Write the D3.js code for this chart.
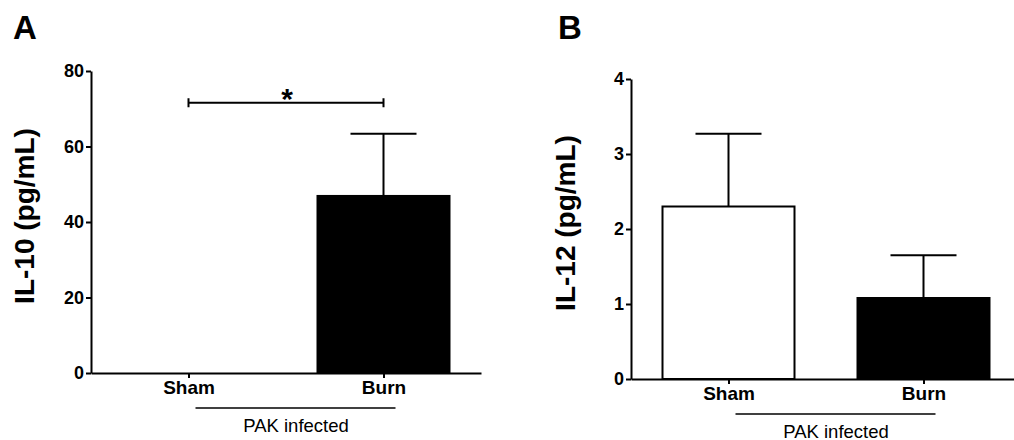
<!DOCTYPE html>
<html>
<head>
<meta charset="utf-8">
<script src="https://cdn.jsdelivr.net/npm/d3@7"></script>
<style>
  body { margin: 0; background: #fff; }
  svg { font-family: 'Liberation Sans', Arial, sans-serif; }
</style>
</head>
<body>
<chart></chart>
<script>
// Data
const groups = ['Sham', 'Burn'];
const barFills = ['white', 'black'];

const il10Means = [0, 46.9];
const il10Errors = [0, 16.5];
const il10Ticks = [0, 20, 40, 60, 80];
const il10Sig = { from: 'Sham', to: 'Burn', value: 71.6, label: '*' };

const il12Means = [2.3, 1.08];
const il12Errors = [0.97, 0.57];
const il12Ticks = [0, 1, 2, 3, 4];

const groupLabel = 'PAK infected';

//svg
const svg = d3.select('chart').append('svg')
  .attr('width', 1014)
  .attr('height', 440);

const drawPanel = function (opts) {
  const { left, top, height, yMax, ticks, means, errors, title, letter, titleX, letterX, sig } = opts;
  const width = 390;
  const barWidth = 132;

  // Scales
  const xScale = d3.scalePoint()
    .domain(groups)
    .range([0, width])
    .padding(0.5);

  const yScale = d3.scaleLinear()
    .domain([0, yMax])
    .range([height, 0]);

  const g = svg.append('g')
    .attr('transform', `translate(${left}, ${top})`);

  // Bars
  g.selectAll('.bar')
    .data(groups)
    .enter().append('rect')
    .attr('class', 'bar')
    .attr('x', d => xScale(d) - barWidth / 2)
    .attr('y', (d, i) => yScale(means[i]))
    .attr('width', barWidth)
    .attr('height', (d, i) => height - yScale(means[i]))
    .attr('fill', (d, i) => barFills[i])
    .attr('stroke', 'black')
    .attr('stroke-width', 2);

  // Error bars (upper only)
  const err = g.selectAll('.err')
    .data(groups.filter((d, i) => errors[i] > 0))
    .enter().append('g')
    .attr('class', 'err');

  const top_ = d => yScale(means[groups.indexOf(d)] + errors[groups.indexOf(d)]);

  err.append('line')
    .attr('x1', d => xScale(d))
    .attr('x2', d => xScale(d))
    .attr('y1', d => yScale(means[groups.indexOf(d)]))
    .attr('y2', top_)
    .attr('stroke', 'black')
    .attr('stroke-width', 2);

  err.append('line')
    .attr('x1', d => xScale(d) - 33)
    .attr('x2', d => xScale(d) + 33)
    .attr('y1', top_)
    .attr('y2', top_)
    .attr('stroke', 'black')
    .attr('stroke-width', 2);

  //Axes
  const yAxis = d3.axisLeft(yScale)
    .tickValues(ticks)
    .tickFormat(d3.format('d'))
    .tickSize(5)
    .tickSizeOuter(0)
    .tickPadding(2);

  const xAxis = d3.axisBottom(xScale)
    .tickSize(5)
    .tickSizeOuter(0)
    .tickPadding(3);

  const yAxisGroup = g.append('g').call(yAxis);
  const xAxisGroup = g.append('g')
    .attr('transform', `translate(0, ${height})`)
    .call(xAxis);

  [yAxisGroup, xAxisGroup].forEach(a => {
    a.selectAll('path, line').attr('stroke', 'black').attr('stroke-width', 2);
    a.selectAll('text')
      .attr('fill', 'black')
      .style('font-weight', 'bold');
  });
  yAxisGroup.selectAll('text').style('font-size', '18px');
  xAxisGroup.selectAll('text').style('font-size', '19px');

  // Group line and label below x axis
  g.append('line')
    .attr('x1', xScale(groups[0]) + 7)
    .attr('x2', xScale(groups[1]) + 12)
    .attr('y1', height + 35)
    .attr('y2', height + 35)
    .attr('stroke', 'black')
    .attr('stroke-width', 1.5);

  g.append('text')
    .attr('x', (xScale(groups[0]) + xScale(groups[1])) / 2 + 10)
    .attr('y', height + 58.5)
    .attr('text-anchor', 'middle')
    .style('font-size', '18.5px')
    .text(groupLabel);

  // Y axis title
  svg.append('text')
    .attr('transform', `translate(${titleX}, ${top + height / 2 - 6}) rotate(-90)`)
    .attr('text-anchor', 'middle')
    .style('font-size', '28px')
    .style('font-weight', 'bold')
    .text(title);

  // Panel letter
  svg.append('text')
    .attr('x', letterX)
    .attr('y', 39)
    .style('font-size', '33px')
    .style('font-weight', 'bold')
    .text(letter);

  // Significance bracket
  if (sig) {
    const x1 = xScale(sig.from);
    const x2 = xScale(sig.to);
    const ys = yScale(sig.value);
    g.append('path')
      .attr('d', `M${x1},${ys - 4.5}V${ys + 4.5}M${x1},${ys}H${x2}M${x2},${ys - 4.5}V${ys + 4.5}`)
      .attr('stroke', 'black')
      .attr('stroke-width', 2)
      .attr('fill', 'none');
    g.append('text')
      .attr('x', (x1 + x2) / 2 + 1)
      .attr('y', ys + 6)
      .attr('text-anchor', 'middle')
      .style('font-size', '30px')
      .style('font-weight', 'bold')
      .text(sig.label);
  }
};

drawPanel({
  left: 91, top: 71, height: 302, yMax: 80, ticks: il10Ticks,
  means: il10Means, errors: il10Errors, title: 'IL-10 (pg/mL)',
  letter: 'A', titleX: 34, letterX: 13, sig: il10Sig
});

drawPanel({
  left: 631, top: 79, height: 300, yMax: 4, ticks: il12Ticks,
  means: il12Means, errors: il12Errors, title: 'IL-12 (pg/mL)',
  letter: 'B', titleX: 575, letterX: 558, sig: null
});
</script>
</body>
</html>
